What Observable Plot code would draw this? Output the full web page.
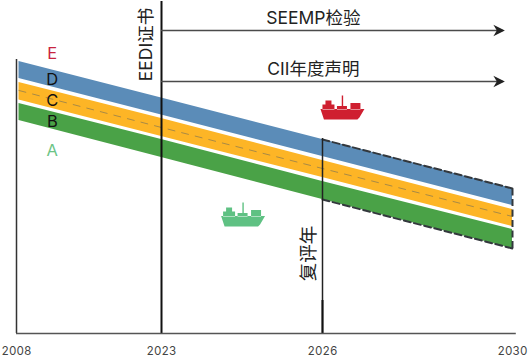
<!DOCTYPE html>
<html>
<head>
<meta charset="utf-8">
<style>html,body{margin:0;padding:0;background:#fff}svg{display:block}</style>
<script src="https://cdn.jsdelivr.net/npm/d3@7"></script>
<script src="https://cdn.jsdelivr.net/npm/@observablehq/plot@0.6"></script>
</head>
<body>
<div id="chart"></div>
<script>
const tickYears = [2008, 2023, 2026, 2030];
const bandYears = [2008.26, 2023, 2026, 2030];
const blueTop      = [272, 235.5, 194, 145];
const blueBottom   = [255, 218.5, 177, 128];
const orangeTop    = [251, 215, 173, 124];
const orangeBottom = [233.5, 197, 156, 107];
const greenTop     = [230, 194, 152, 104];
const greenBottom  = [213, 176, 134, 85];
const centerLine   = [243, 206, 165, 117];

const letters = ["E", "D", "C", "B", "A"];
const letterLevels = [280, 254, 233, 212, 183];
const letterColors = ["#c8243f", "#111111", "#111111", "#111111", "#6cc486"];

const cjk = "Inter, 'Noto Sans CJK SC', sans-serif";

const rows = (top, bottom) => bandYears.map((year, i) => ({year, top: top[i], bottom: bottom[i]}));
const series = (values, from = 0) => bandYears.map((year, i) => ({year, v: values[i]})).slice(from);

const shipSymbol = {
  draw(c, size) {
    const k = Math.sqrt(size) / 22;
    const poly = (pts) => {
      pts.forEach(([x, y], i) => i ? c.lineTo(x * k, y * k) : c.moveTo(x * k, y * k));
      c.closePath();
    };
    poly([[-22,1.5],[22,1.5],[17,10],[15,12],[-18.5,12]]);
    poly([[-20,2],[-8,2],[-8,-3],[-11,-3],[-11,-7],[-17,-7],[-17,-3],[-20,-3]]);
    poly([[-5.5,2],[4.5,2],[4.5,-1.5],[0.7,-1.5],[0.7,-12],[-0.7,-12],[-0.7,-1.5],[-5.5,-1.5]]);
    poly([[8,2],[18,2],[18,-4.5],[8,-4.5]]);
  }
};
const headSymbol = {
  draw(c, size) {
    const k = Math.sqrt(size) / 10;
    c.moveTo(0, 0); c.lineTo(-10 * k, -5 * k); c.lineTo(-7 * k, 0); c.lineTo(-10 * k, 5 * k); c.closePath();
  }
};

const chart = Plot.plot({
  width: 528,
  height: 357,
  marginTop: 0, marginRight: 16, marginBottom: 24, marginLeft: 16,
  style: {background: "#fff"},
  x: {type: "linear", domain: tickYears, range: [16, 161, 322, 512]},
  y: {domain: [0, 333], range: [333, 0], axis: null},
  marks: [
    Plot.areaY(rows(blueTop, blueBottom), {x: "year", y1: "bottom", y2: "top", fill: "#5b8cb8"}),
    Plot.areaY(rows(orangeTop, orangeBottom), {x: "year", y1: "bottom", y2: "top", fill: "#fdb526"}),
    Plot.areaY(rows(greenTop, greenBottom), {x: "year", y1: "bottom", y2: "top", fill: "#4aa247"}),
    Plot.line(series(centerLine), {x: "year", y: "v", stroke: "#a98a45", strokeWidth: 1, strokeDasharray: "7 7"}),

    Plot.line(series(blueTop, 2), {x: "year", y: "v", stroke: "#33383d", strokeWidth: 2, strokeDasharray: "7 3.5"}),
    Plot.line(series(greenBottom, 2), {x: "year", y: "v", stroke: "#33383d", strokeWidth: 2, strokeDasharray: "7 3.5"}),
    Plot.ruleX([2030], {y1: greenBottom[3], y2: blueTop[3], stroke: "#33383d", strokeWidth: 2, strokeDasharray: "7 3.5"}),

    Plot.ruleX([2008], {y1: 0, y2: 274, stroke: "#333", strokeWidth: 1.5}),
    Plot.ruleX([2023], {y1: 0, y2: 332, stroke: "#111", strokeWidth: 2}),
    Plot.ruleX([2026], {y1: 0, y2: 195, stroke: "#222", strokeWidth: 1.5}),
    Plot.ruleX([2026], {y1: 0, y2: 33, stroke: "#111", strokeWidth: 2}),
    Plot.ruleY([0], {x1: 2008, x2: 2030.08, stroke: "#555", strokeWidth: 1.5}),

    Plot.ruleY([303, 252], {x1: 2023, x2: 2029.8, stroke: "#4a4a4a", strokeWidth: 1.5}),
    Plot.dot([303, 252], {x: () => 2029.84, y: d => d, symbol: headSymbol, r: 6.5, fill: "#222", stroke: "none"}),

    Plot.text(letters, {
      x: () => 2011.7,
      y: (d, i) => letterLevels[i],
      text: d => d,
      fill: (d, i) => letterColors[i],
      fontSize: 16.5,
      fontFamily: cjk
    }),
    Plot.text(["SEEMP检验"], {x: () => 2025.83, y: () => 315, text: d => d, fontSize: 17.5, fill: "#222", fontFamily: cjk}),
    Plot.text(["CII年度声明"], {x: () => 2025.83, y: () => 264, text: d => d, fontSize: 17.5, fill: "#222", fontFamily: cjk}),
    Plot.text(["EEDI证书"], {x: () => 2023, dx: -15, y: () => 289, text: d => d, rotate: -90, fontSize: 17.5, fill: "#222", fontFamily: cjk}),
    Plot.text(["复评年"], {x: () => 2026, dx: -13, y: () => 80, text: d => d, rotate: -90, fontSize: 18.5, fill: "#222", fontFamily: cjk}),

    Plot.dot([2026.42], {x: d => d, y: () => 226, symbol: shipSymbol, r: 12.4, fill: "#cf1f30", stroke: "none"}),
    Plot.dot([2024.52], {x: d => d, y: () => 119, symbol: shipSymbol, r: 12.4, fill: "#5fc183", stroke: "none"}),

    Plot.axisX({
      ticks: tickYears,
      tickFormat: "d",
      tickSize: 0,
      tickPadding: 13,
      label: null,
      fontSize: 11.5,
      fill: "#444",
      fontFamily: "Inter, sans-serif"
    })
  ]
});
document.getElementById("chart").append(chart);
</script>
</body>
</html>
